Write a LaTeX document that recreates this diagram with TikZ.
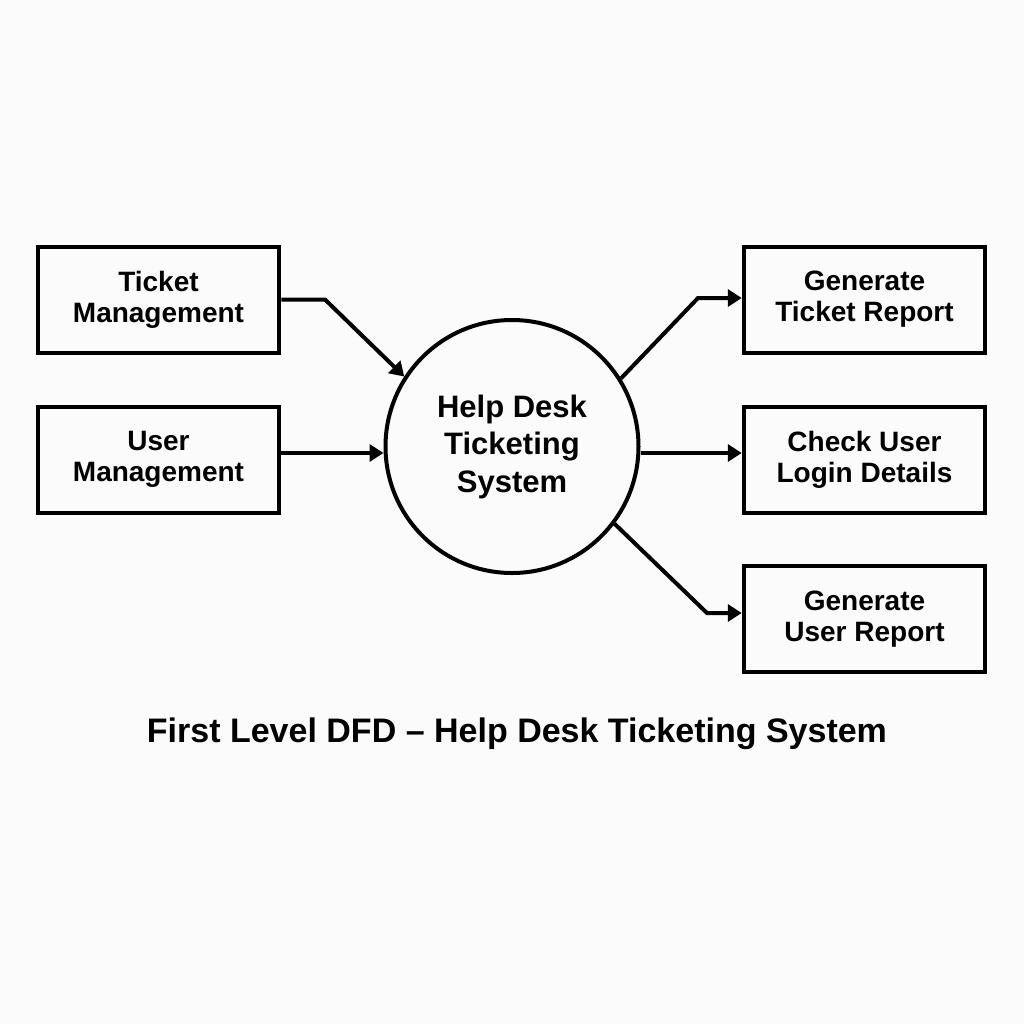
\documentclass[tikz,border=0pt]{standalone}
\usepackage{fontspec}
\setmainfont{Liberation Sans}
\usetikzlibrary{arrows.meta}
\definecolor{paperBg}{HTML}{FBFBFB}
\tikzset{
    procbox/.style={draw=black, line width=2pt, minimum width=120.75pt, minimum height=53pt,
                    align=center, inner sep=0pt, font=\fontsize{14}{15.5}\selectfont\bfseries},
    mainproc/.style={circle, draw=black, line width=2pt, minimum size=126.5pt, inner sep=0pt,
                     align=center, font=\fontsize{15.5}{18.75}\selectfont\bfseries},
    flow/.style={draw=black, line width=2pt, -{Triangle[length=7pt,width=8.5pt]}}
}

\begin{document}
\begin{tikzpicture}[x=0.5pt, y=-0.5pt]
  % page
  \fill[paperBg] (0,0) rectangle (1024,1024);

  % central process
  \node[mainproc] (hd) at (512,446.5) {Help Desk\\Ticketing\\System};

  % inputs (left)
  \node[procbox] (tm) at (158.5,299.5) {Ticket\\Management};
  \node[procbox] (um) at (158.5,459.5) {User\\Management};

  % outputs (right)
  \node[procbox] (gtr) at (864.5,299.5) {Generate\\Ticket Report};
  \node[procbox] (cul) at (864.5,459.5) {Check User\\Login Details};
  \node[procbox] (gur) at (864.5,619)   {Generate\\User Report};

  % bends
  \coordinate (tmBend)  at (325,299.5);
  \coordinate (gtrBend) at (698,298);
  \coordinate (gurBend) at (707,613);

  % flows in
  \draw[flow] (tm.east |- tmBend) -- (tmBend) -- (hd.147);
  \draw[flow] (um.east |- 0,453) -- (hd.west |- 0,453);

  % flows out
  \draw[flow] (hd.32.5) -- (gtrBend) -- (gtr.west |- gtrBend);
  \draw[flow] (hd.east |- 0,453) -- (cul.west |- 0,453);
  \draw[flow] (hd.-37) -- (gurBend) -- (gur.west |- gurBend);

  % title
  \node[font=\fontsize{17}{20}\selectfont\bfseries] (title) at (517,734)
    {First Level DFD -- Help Desk Ticketing System};
\end{tikzpicture}
\end{document}
